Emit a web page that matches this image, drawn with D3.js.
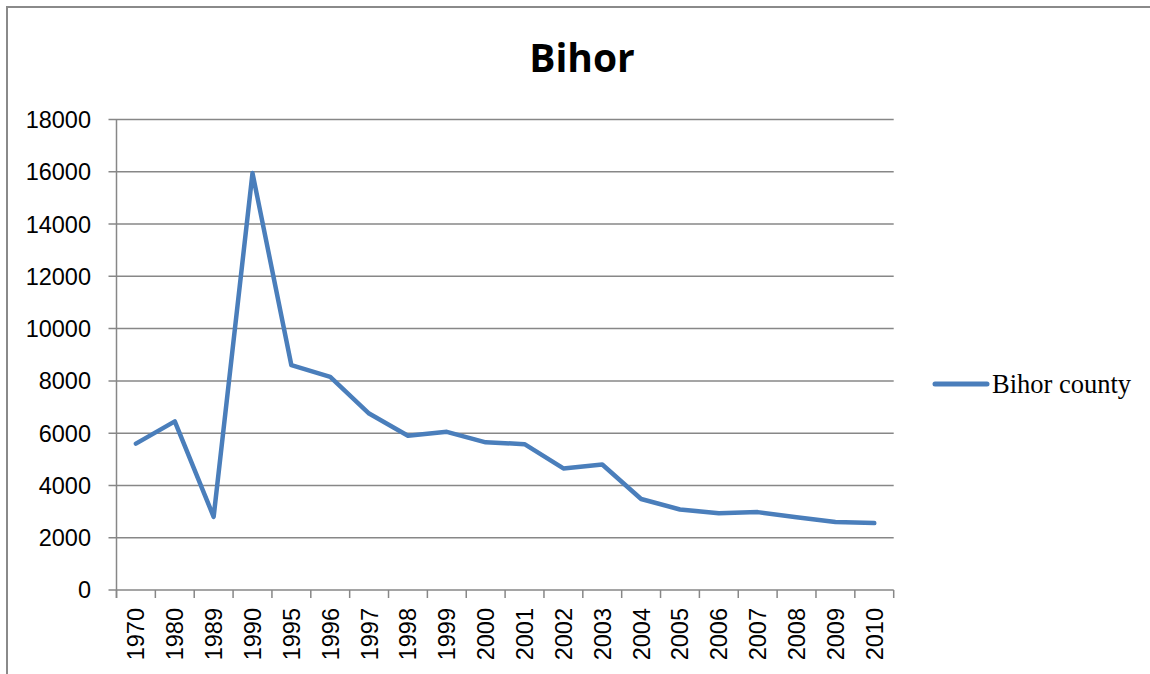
<!DOCTYPE html>
<html>
<head>
<meta charset="utf-8">
<script src="https://cdn.jsdelivr.net/npm/d3@7"></script>
<style>
  body { margin: 0; background: #fff; }
  svg { display: block; }
</style>
</head>
<body>
<div id="chart"></div>
<script>
// chart data
var years = ["1970", "1980", "1989", "1990", "1995", "1996", "1997", "1998", "1999", "2000",
             "2001", "2002", "2003", "2004", "2005", "2006", "2007", "2008", "2009", "2010"];
var bihorValues = [5600, 6450, 2800, 15950, 8600, 8150, 6750, 5900, 6050, 5650,
                   5580, 4650, 4800, 3480, 3080, 2940, 2980, 2780, 2600, 2560];
var yTicks = [0, 2000, 4000, 6000, 8000, 10000, 12000, 14000, 16000, 18000];
var seriesName = "Bihor county";
var chartTitle = "Bihor";

var width = 1150, height = 674;
var margin = { top: 119.5, right: 256, bottom: 84, left: 116.5 };

var svg = d3.select("#chart").append("svg")
  .attr("width", width)
  .attr("height", height);

// outer frame (runs off the right and bottom edges)
svg.append("rect")
  .attr("x", 7).attr("y", 7)
  .attr("width", width + 20).attr("height", height + 20)
  .attr("fill", "none")
  .attr("stroke", "#8a8a8a")
  .attr("stroke-width", 2);

var xScale = d3.scaleBand()
  .domain(years)
  .range([margin.left, width - margin.right - 0.3])
  .padding(0);

var yScale = d3.scaleLinear()
  .domain([0, 18000])
  .range([height - margin.bottom, margin.top]);

var gridColor = "#878787";

// horizontal gridlines + left ticks
svg.append("g").selectAll("line")
  .data(yTicks)
  .enter().append("line")
  .attr("x1", margin.left - 8)
  .attr("x2", xScale.range()[1])
  .attr("y1", function(d){ return yScale(d); })
  .attr("y2", function(d){ return yScale(d); })
  .attr("stroke", gridColor)
  .attr("stroke-width", 1.5);

// y axis line
svg.append("line")
  .attr("x1", margin.left).attr("x2", margin.left)
  .attr("y1", yScale(18000)).attr("y2", yScale(0) + 8)
  .attr("stroke", gridColor)
  .attr("stroke-width", 1.5);

// x tick marks at category boundaries
var bounds = years.map(function(d){ return xScale(d); }).concat([xScale.range()[1]]);
svg.append("g").selectAll("line")
  .data(bounds)
  .enter().append("line")
  .attr("x1", function(d){ return d; })
  .attr("x2", function(d){ return d; })
  .attr("y1", yScale(0))
  .attr("y2", yScale(0) + 8)
  .attr("stroke", gridColor)
  .attr("stroke-width", 1.5);

// y labels
svg.append("g").selectAll("text")
  .data(yTicks)
  .enter().append("text")
  .attr("x", 91)
  .attr("y", function(d){ return yScale(d); })
  .attr("dy", "0.36em")
  .attr("text-anchor", "end")
  .attr("font-family", "'Liberation Sans', Arial, sans-serif")
  .attr("font-size", 23.5)
  .attr("fill", "#000")
  .text(function(d){ return d; });

// x labels, rotated
svg.append("g").selectAll("text")
  .data(years)
  .enter().append("text")
  .attr("transform", function(d){
    return "translate(" + (xScale(d) + xScale.bandwidth() / 2) + "," + 608 + ") rotate(-90)";
  })
  .attr("dy", "0.36em")
  .attr("text-anchor", "end")
  .attr("font-family", "'Liberation Sans', Arial, sans-serif")
  .attr("font-size", 23.5)
  .attr("fill", "#000")
  .text(function(d){ return d; });

// data line
var lineGen = d3.line()
  .x(function(d, i){ return xScale(years[i]) + xScale.bandwidth() / 2; })
  .y(function(d){ return yScale(d); });

svg.append("path")
  .datum(bihorValues)
  .attr("d", lineGen)
  .attr("fill", "none")
  .attr("stroke", "#4a7ebb")
  .attr("stroke-width", 4.5)
  .attr("stroke-linejoin", "round")
  .attr("stroke-linecap", "round");

// title
svg.append("text")
  .attr("x", 582)
  .attr("y", 72)
  .attr("text-anchor", "middle")
  .attr("font-family", "'Open Sans', sans-serif")
  .attr("font-weight", "bold")
  .attr("font-size", 39)
  .attr("fill", "#000")
  .text(chartTitle);

// legend
var legend = svg.append("g");
legend.append("line")
  .attr("x1", 935).attr("x2", 987)
  .attr("y1", 384).attr("y2", 384)
  .attr("stroke", "#4a7ebb")
  .attr("stroke-width", 5)
  .attr("stroke-linecap", "round");
legend.append("text")
  .attr("x", 992)
  .attr("y", 393)
  .attr("font-family", "'Liberation Serif', 'Times New Roman', serif")
  .attr("font-size", 26.5)
  .attr("fill", "#000")
  .text(seriesName);
</script>
</body>
</html>
